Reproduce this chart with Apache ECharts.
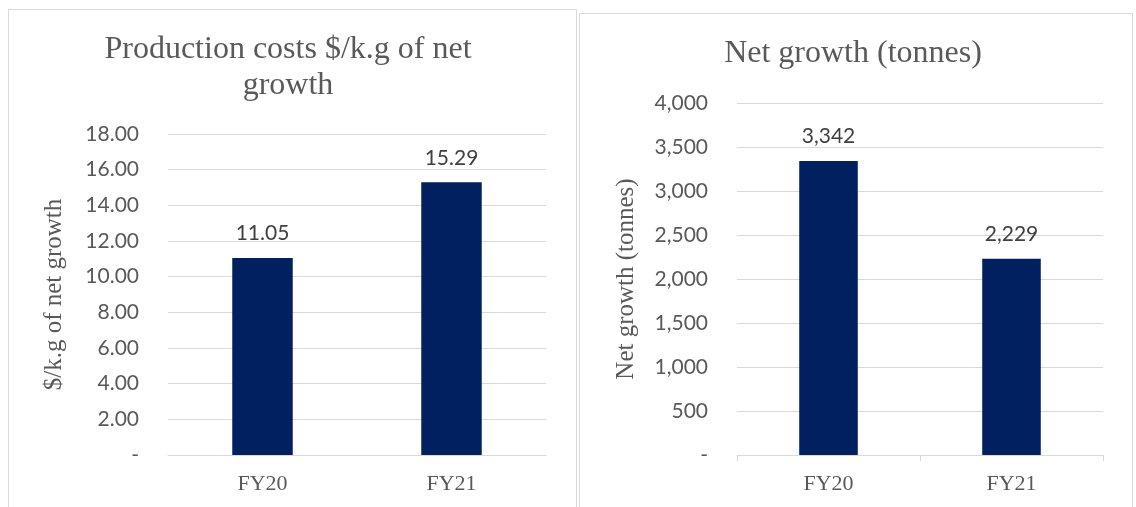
<!DOCTYPE html>
<html><head><meta charset="utf-8">
<script src="https://cdn.jsdelivr.net/npm/echarts@6/dist/echarts.min.js"></script>
<style>html,body{margin:0;padding:0;background:#fff;}#c{width:1136px;height:507px;}</style>
</head><body><div id="c"></div>
<script>
const categories = ['FY20', 'FY21'];
const costValues = [11.05, 15.29];
const growthValues = [3342, 2229];
const costTitle = 'Production costs $/k.g of net\ngrowth';
const growthTitle = 'Net growth (tonnes)';
const costAxisName = '$/k.g of net growth';
const growthAxisName = 'Net growth (tonnes)';

const chart = echarts.init(document.getElementById('c'));
const serif = '"Liberation Serif", "DejaVu Serif", serif';
const sans = 'Lato, "Noto Sans", sans-serif';
const grey = '#595959';
const barColor = '#002060';

function fmtCost(v){ return v === 0 ? '-' : v.toFixed(2); }
function fmtGrowth(v){ return v === 0 ? '-' : v.toLocaleString('en-US'); }

chart.setOption({
  animation: false,
  graphic: [
    {type:'rect', shape:{x:8.5,y:9.5,width:568,height:510}, style:{fill:'none',stroke:'#d9d9d9',lineWidth:1}},
    {type:'rect', shape:{x:579.5,y:13.5,width:553,height:510}, style:{fill:'none',stroke:'#d9d9d9',lineWidth:1}}
  ],
  title: [
    {text: costTitle, left: 288, top: 32, textAlign: 'center', padding: 0,
     textStyle:{fontFamily: serif, fontSize: 32, fontWeight:'normal', color: grey, lineHeight: 36}},
    {text: growthTitle, left: 853, top: 36, textAlign: 'center', padding: 0,
     textStyle:{fontFamily: serif, fontSize: 32, fontWeight:'normal', color: grey, lineHeight: 36}}
  ],
  grid: [
    {left: 168, right: 1136-546, top: 134, bottom: 507-455},
    {left: 737, right: 1136-1103, top: 103, bottom: 507-455}
  ],
  xAxis: [
    {gridIndex:0, type:'category', data: categories,
     axisLine:{show:true, lineStyle:{color:'#d9d9d9', width:1}}, axisTick:{show:false},
     axisLabel:{fontFamily: serif, fontSize: 22, color: grey, margin: 18}},
    {gridIndex:1, type:'category', data: categories,
     axisLine:{show:true, lineStyle:{color:'#d9d9d9', width:1}},
     axisTick:{show:true, length:6, lineStyle:{color:'#d9d9d9'}},
     axisLabel:{fontFamily: serif, fontSize: 22, color: grey, margin: 18}}
  ],
  yAxis: [
    {gridIndex:0, type:'value', min:0, max:18, interval:2,
     name: costAxisName, nameLocation:'middle', nameGap: 101, nameRotate: 90,
     nameTextStyle:{fontFamily: serif, fontSize: 25, color: grey},
     axisLine:{show:false}, axisTick:{show:false},
     axisLabel:{fontFamily: sans, fontSize: 21, color: grey, margin: 29, formatter: fmtCost},
     splitLine:{lineStyle:{color:'#d9d9d9', width:1}}},
    {gridIndex:1, type:'value', min:0, max:4000, interval:500,
     name: growthAxisName, nameLocation:'middle', nameGap: 98, nameRotate: 90,
     nameTextStyle:{fontFamily: serif, fontSize: 25, color: grey},
     axisLine:{show:false}, axisTick:{show:false},
     axisLabel:{fontFamily: sans, fontSize: 21, color: grey, margin: 29, formatter: fmtGrowth},
     splitLine:{lineStyle:{color:'#d9d9d9', width:1}}}
  ],
  series: [
    {type:'bar', xAxisIndex:0, yAxisIndex:0, data: costValues, barWidth:'32%',
     itemStyle:{color: barColor},
     label:{show:true, position:'top', distance:14, fontFamily: sans, fontSize: 21, color:'#404040',
       formatter: p => fmtCost(p.value)}},
    {type:'bar', xAxisIndex:1, yAxisIndex:1, data: growthValues, barWidth:'32%',
     itemStyle:{color: barColor},
     label:{show:true, position:'top', distance:14, fontFamily: sans, fontSize: 21, color:'#404040',
       formatter: p => fmtGrowth(p.value)}}
  ]
});
</script></body></html>
